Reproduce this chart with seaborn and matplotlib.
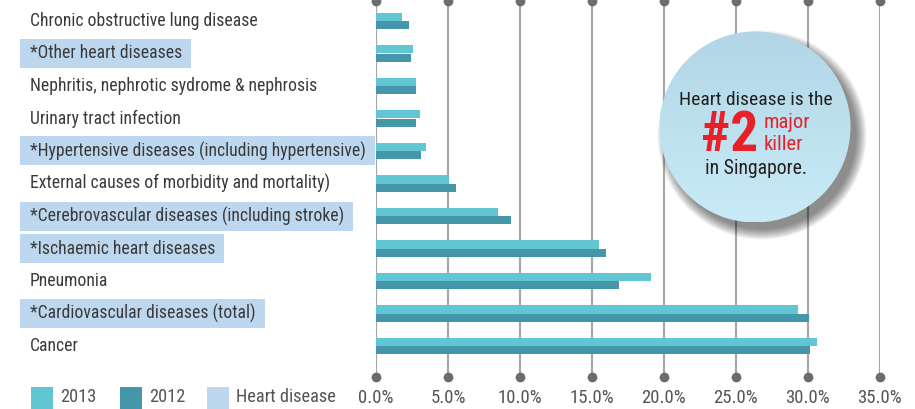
import numpy as np
import pandas as pd
import matplotlib
matplotlib.use("Agg")
import matplotlib.pyplot as plt
import seaborn as sns
from matplotlib.patches import Rectangle, Circle
from matplotlib.transforms import blended_transform_factory

# ---------------- data ----------------
causes = [
    "Chronic obstructive lung disease",
    "*Other heart diseases",
    "Nephritis, nephrotic sydrome & nephrosis",
    "Urinary tract infection",
    "*Hypertensive diseases (including hypertensive)",
    "External causes of morbidity and mortality)",
    "*Cerebrovascular diseases (including stroke)",
    "*Ischaemic heart diseases",
    "Pneumonia",
    "*Cardiovascular diseases (total)",
    "Cancer",
]
values_2013 = [1.8, 2.6, 2.75, 3.05, 3.45, 5.05, 8.5, 15.5, 19.1, 29.3, 30.6]
values_2012 = [2.3, 2.4, 2.75, 2.75, 3.1, 5.55, 9.4, 16.0, 16.9, 30.05, 30.15]
is_heart = [False, True, False, False, True, False, True, True, False, True, False]
years = ["2013", "2012"]
xticks = [0, 5, 10, 15, 20, 25, 30, 35]
xtick_labels = ["0.0%", "5.0%", "10.0%", "15.0%", "20.0%", "25.0%", "30.0%", "35.0%"]
legend_labels = ["2013", "2012", "Heart disease"]

# ---------------- style ----------------
C13 = "#62c6d2"
C12 = "#4596a8"
CHEART = "#bdd7ee"
GRID = "#a9a9ab"
DOT = "#6b6b70"
TXT = "#3a3a3a"
RED = "#e8202a"

W, H = 915, 409
sns.set_theme(style="white")
FONTS = ["Liberation Sans Narrow", "Roboto Condensed", "Liberation Sans", "DejaVu Sans"]
plt.rcParams["font.family"] = FONTS

fig = plt.figure(figsize=(W / 100, H / 100), dpi=100)
ax_top_px, ax_bot_px = 1.0, 376.5
ax = fig.add_axes([376 / W, (H - ax_bot_px) / H, (880 - 376) / W, (ax_bot_px - ax_top_px) / H])

df = pd.DataFrame({
    "cause": causes * 2,
    "value": values_2013 + values_2012,
    "year": [years[0]] * len(causes) + [years[1]] * len(causes),
})
sns.barplot(data=df, y="cause", x="value", hue="year", hue_order=years,
            order=causes, palette=[C13, C12], orient="h", width=0.51,
            saturation=1, linewidth=0, ax=ax, legend=False, zorder=3)

row_px = 32.5
ax.set_xlim(0, 35)
ax.set_ylim(len(causes) - 1 + 30.5 / row_px, -20 / row_px)
for s in ax.spines.values():
    s.set_visible(False)
ax.set_xticks(xticks)
ax.set_xticklabels(xtick_labels, fontsize=13.5, color="#555555")
ax.tick_params(axis="x", length=0, pad=9)
ax.set_yticks([])
ax.set_xlabel("")
ax.set_ylabel("")
ax.set_axisbelow(True)
ax.grid(axis="x", color=GRID, linewidth=1.6, zorder=0)
ax.grid(axis="y", visible=False)
xt = ax.get_xaxis_transform()
ax.plot(xticks, [1.0] * len(xticks), "o", color=DOT, ms=6, transform=xt, clip_on=False, zorder=4)
ax.plot(xticks, [0.0] * len(xticks), "o", color=DOT, ms=6, transform=xt, clip_on=False, zorder=4)

# category labels with heart-disease highlight boxes
trans = blended_transform_factory(fig.transFigure, ax.transData)
texts = []
for i, (c, h) in enumerate(zip(causes, is_heart)):
    t = fig.text(30 / W, i, c, transform=trans, ha="left", va="center",
                 fontsize=12.7, color=TXT, zorder=5)
    texts.append((t, h, i))

fig.canvas.draw()
renderer = fig.canvas.get_renderer()
for t, h, i in texts:
    if not h:
        continue
    bb = t.get_window_extent(renderer)
    yc = ax.transData.transform((0, i))[1]
    rect = Rectangle(((20) / W, (yc - 14.5) / H), (bb.x1 + 9 - 20) / W, 29 / H,
                     transform=fig.transFigure, facecolor=CHEART, edgecolor="none", zorder=1)
    fig.patches.append(rect)

# ---------------- overlay: badge + legend (pixel coordinates) ----------------
ov = fig.add_axes([0, 0, 1, 1], zorder=10)
ov.set_xlim(0, W)
ov.set_ylim(H, 0)
ov.axis("off")
ov.patch.set_alpha(0)

cx, cy, r = 755, 127, 95.5
for k in range(14):
    ov.add_patch(Circle((cx + 7, cy + 8), r + 9 - k * 0.8, facecolor="black",
                        edgecolor="none", alpha=0.04))
grad = np.linspace(0, 1, 200)[:, None]
cmap = matplotlib.colors.LinearSegmentedColormap.from_list("b", ["#b2d6e6", "#c9ebf8"])
im = ov.imshow(grad, cmap=cmap, extent=[cx - r, cx + r, cy + r, cy - r], aspect="auto", zorder=2)
clip = Circle((cx, cy), r, transform=ov.transData, facecolor="none", edgecolor="none")
ov.add_patch(clip)
im.set_clip_path(clip)
ov.set_xlim(0, W)
ov.set_ylim(H, 0)

ov.text(cx + 1, 100, "Heart disease is the", ha="center", va="center", fontsize=14, color="#231f20", zorder=3)
ov.text(758, 136, "#2", ha="right", va="center", fontsize=40, fontweight="bold", color=RED, zorder=3)
ov.text(764, 122, "major", ha="left", va="center", fontsize=14.8, color=RED, zorder=3)
ov.text(764, 145, "killer", ha="left", va="center", fontsize=14.8, color=RED, zorder=3)
ov.text(cx + 1, 168, "in Singapore.", ha="center", va="center", fontsize=14.2, color="#231f20", zorder=3)

# legend
leg_colors = [C13, C12, CHEART]
leg_x = [31, 120, 207]
for lx, col, lab in zip(leg_x, leg_colors, legend_labels):
    ov.add_patch(Rectangle((lx, 387), 21.5, 21.5, facecolor=col, edgecolor="none"))
    ov.text(lx + 29, 397, lab, ha="left", va="center", fontsize=13.2, color="#555555")

fig.savefig("out.png", dpi=100)
